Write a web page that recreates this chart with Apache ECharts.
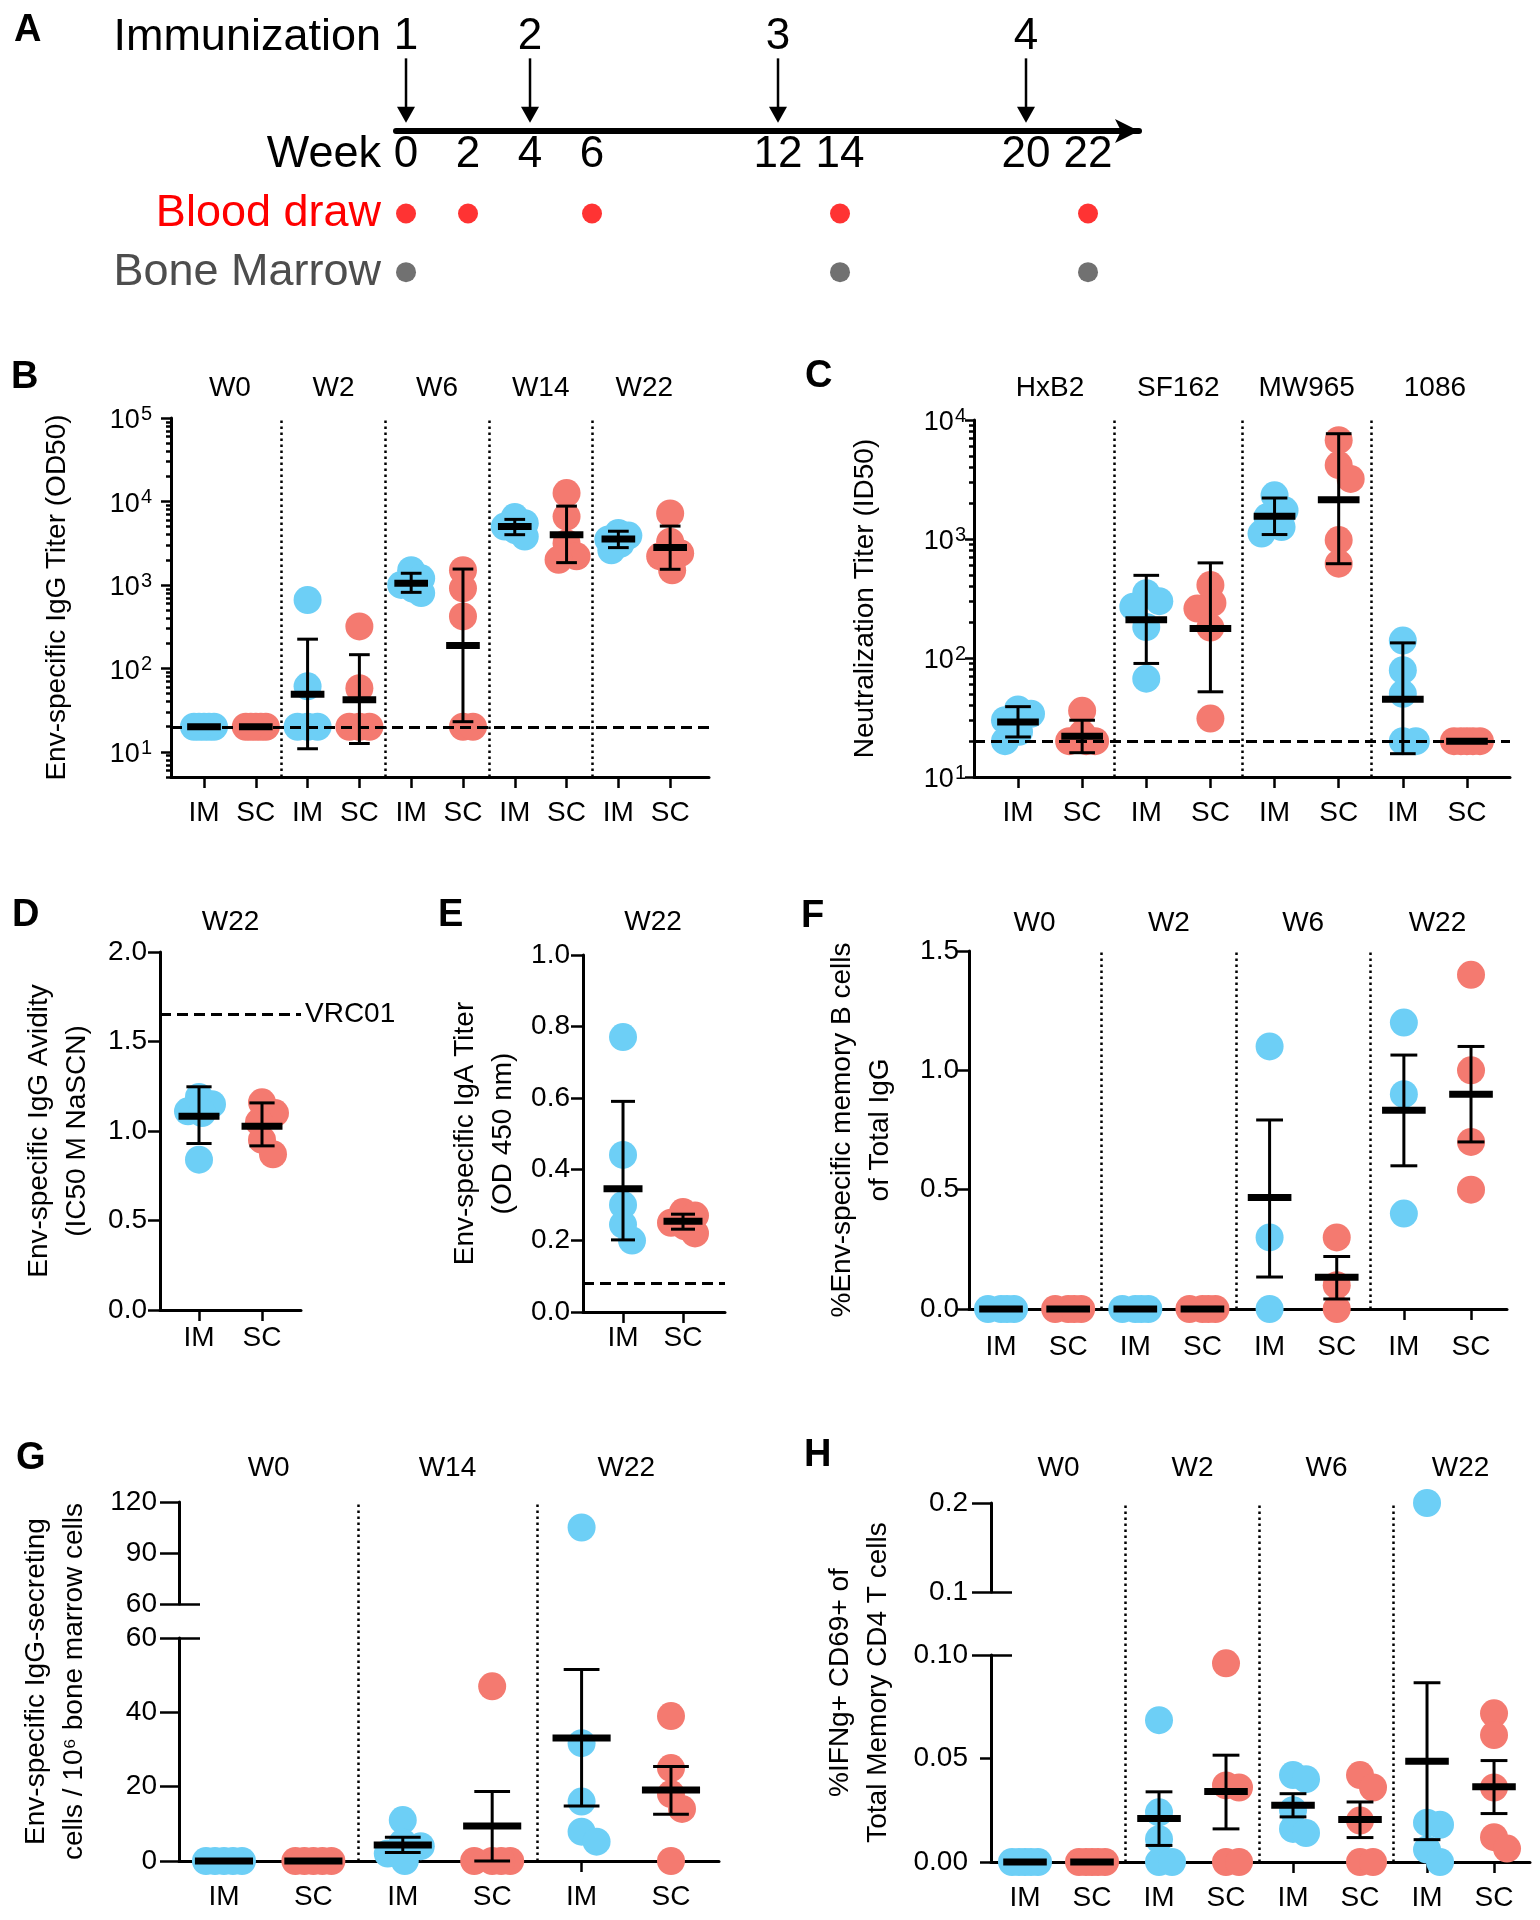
<!DOCTYPE html>
<html><head><meta charset="utf-8">
<script src="https://cdn.jsdelivr.net/npm/echarts@6/dist/echarts.min.js"></script>
<style>html,body{margin:0;padding:0;background:#fff}#c{width:1540px;height:1920px}</style>
</head><body><div id="c"></div>
<script>
// ================= DATA =================
const routes = ['IM', 'SC'];

// Panel A – timeline
const timelineRows = ['Bone Marrow', 'Blood draw', 'Week', '', 'Immunization'];
const weekTicks = [0, 2, 4, 6, 12, 14, 20, 22];
const immunWeeks = [0, 4, 12, 20];
const immunNumbers = ['1', '2', '3', '4'];
const bloodDrawWeeks = [0, 2, 6, 14, 22];
const boneMarrowWeeks = [0, 14, 22];

// Panel B – Env-specific IgG titer (OD50), log scale
const bGroups = ['W0', 'W2', 'W6', 'W14', 'W22'];
const bPoints = [
  [20, 20, 20, 20, 20], [20, 20, 20, 20, 20],
  [660, 61, 20, 20, 20], [318, 58, 20, 20, 20],
  [1500, 1200, 1000, 900, 800], [1500, 910, 420, 20, 20],
  [6500, 5500, 5000, 4500, 3800], [12600, 6600, 3160, 2200, 2000],
  [4200, 3900, 3500, 3100, 2600], [7200, 3300, 2400, 2200, 1500]
];
const bMean = [20, 20, 49, 42, 1050, 188, 5000, 3980, 3550, 2800];
const bLow = [20, 20, 10.9, 12.6, 815, 23, 4000, 1850, 2800, 1540];
const bHigh = [20, 20, 224, 146, 1380, 1550, 6100, 8800, 4400, 5070];
const bLimit = 20;
const bExponents = [1, 2, 3, 4, 5];

// Panel C – Neutralization titer (ID50), log scale
const cGroups = ['HxB2', 'SF162', 'MW965', '1086'];
const cPoints = [
  [37, 34, 30, 24, 20], [36, 23, 20, 20, 20],
  [350, 300, 270, 182, 67], [410, 290, 260, 180, 31],
  [2330, 1740, 1530, 1260, 1110], [6770, 4180, 3200, 980, 620],
  [140, 79, 50, 20, 20], [20, 20, 20, 20, 20]
];
const cMean = [29, 22, 210, 177, 1550, 2140, 45, 20];
const cLow = [21.7, 16, 90, 52, 1090, 620, 15.7, 20];
const cHigh = [39, 30, 495, 630, 2210, 7670, 134, 20];
const cLimit = 20;
const cExponents = [1, 2, 3, 4];

// Panel D – IgG avidity
const dGroups = ['W22'];
const dPoints = [[1.19, 1.15, 1.11, 1.10, 0.84], [1.16, 1.10, 1.05, 0.95, 0.87]];
const dMean = [1.083, 1.027];
const dLow = [0.93, 0.917];
const dHigh = [1.247, 1.157];
const dVRC01 = 1.647;
const dTicks = [0, 0.5, 1.0, 1.5, 2.0];

// Panel E – IgA titer
const eGroups = ['W22'];
const ePoints = [[0.77, 0.44, 0.30, 0.245, 0.20], [0.28, 0.27, 0.25, 0.24, 0.22]];
const eMean = [0.345, 0.254];
const eLow = [0.202, 0.232];
const eHigh = [0.59, 0.274];
const eLimit = 0.078;
const eTicks = [0, 0.2, 0.4, 0.6, 0.8, 1.0];

// Panel F – memory B cells
const fGroups = ['W0', 'W2', 'W6', 'W22'];
const fPoints = [
  [0, 0, 0, 0], [0, 0, 0, 0], [0, 0, 0, 0], [0, 0, 0, 0],
  [1.1, 0.3, 0], [0.3, 0.1, 0], [1.2, 0.9, 0.4], [1.4, 1.0, 0.7, 0.5]
];
const fMean = [0, 0, 0, 0, 0.467, 0.133, 0.833, 0.9];
const fLow = [0, 0, 0, 0, 0.134, 0.042, 0.6, 0.7];
const fHigh = [0, 0, 0, 0, 0.792, 0.22, 1.064, 1.1];
const fTicks = [0, 0.5, 1.0, 1.5];

// Panel G – IgG-secreting cells / 10^6 bone marrow cells (broken axis)
const gGroups = ['W0', 'W14', 'W22'];
const gPoints = [
  [0, 0, 0, 0, 0], [0, 0, 0, 0, 0],
  [11, 5, 4, 2, 0], [47, 0, 0, 0, 0],
  [105, 31.7, 16, 7.9, 5.2], [39, 25, 18, 14, 0]
];
const gMean = [0, 0, 4.3, 9.4, 33.1, 19.1];
const gLow = [0, 0, 2.3, 0, 14.8, 12.6];
const gHigh = [0, 0, 6.4, 18.7, 51.5, 25.4];
const gUpperTicks = [60, 90, 120];
const gLowerTicks = [0, 20, 40, 60];

// Panel H – IFNg+ CD69+ CD4 T cells (broken axis)
const hGroups = ['W0', 'W2', 'W6', 'W22'];
const hPoints = [
  [0, 0, 0, 0, 0], [0, 0, 0, 0, 0],
  [0.0685, 0.024, 0.011, 0, 0], [0.096, 0.037, 0.036, 0, 0],
  [0.042, 0.040, 0.025, 0.016, 0.014], [0.042, 0.036, 0.02, 0, 0],
  [0.2, 0.019, 0.018, 0.006, 0], [0.0718, 0.0613, 0.036, 0.012, 0.0065]
];
const hMean = [0, 0, 0.021, 0.034, 0.0274, 0.0205, 0.0487, 0.0363];
const hLow = [0, 0, 0.008, 0.016, 0.0218, 0.0118, 0.0108, 0.0234];
const hHigh = [0, 0, 0.0339, 0.0516, 0.033, 0.029, 0.0866, 0.049];
const hUpperTicks = [0.1, 0.2];
const hLowerTicks = [0, 0.05, 0.10];

// ================= STYLE / BUILD =================
const FONT = "'Liberation Sans', Arial, Helvetica, sans-serif";
const BLUE = '#6dcff6', RED = '#f47a70', BLACK = '#000000';
const LINE = { color: BLACK, width: 3 };
const TICK = { color: BLACK, width: 2.5 };

const option = {
  animation: false, backgroundColor: '#ffffff',
  textStyle: { fontFamily: FONT, color: BLACK },
  title: [], grid: [], xAxis: [], yAxis: [], series: []
};
function addGrid(left, top, width, height) { option.grid.push({ left, top, width, height }); return option.grid.length - 1; }
function addX(cfg) { option.xAxis.push(Object.assign({ type: 'value', splitLine: { show: false } }, cfg)); return option.xAxis.length - 1; }
function addY(cfg) { option.yAxis.push(Object.assign({ type: 'value', splitLine: { show: false } }, cfg)); return option.yAxis.length - 1; }
function letter(t, left, top) {
  option.title.push({ text: t, left, top, padding: 0, textStyle: { fontSize: 38, fontWeight: 'bold', color: BLACK, fontFamily: FONT } });
}
const log10 = v => Math.log10(v);
const expFmt = v => '{b|10}{s|' + Math.round(v) + '}';
const expRich = {
  b: { fontSize: 27, color: BLACK, fontFamily: FONT, padding: [6, 0, 0, 0] },
  s: { fontSize: 20, color: BLACK, fontFamily: FONT, verticalAlign: 'top', padding: [3, 0, 0, 1] }
};
function logMinor(lo, hi) {
  const out = [];
  for (let e = Math.floor(Math.log10(lo)); e < Math.log10(hi); e++)
    for (let k = 2; k <= 9; k++) { const v = k * Math.pow(10, e); if (v >= lo && v <= hi) out.push(Math.log10(v)); }
  return out;
}

function swarmRender(points, tf, filter) {
  return function (params, api) {
    const i = params.dataIndex;
    const x = i + 1;
    const color = i % 2 === 0 ? BLUE : RED;
    const spacing = api.size([1, 0])[0];
    const cap = Math.round(spacing * 0.2);
    const dmin = 18;
    const cx = api.coord([x, api.value(1)])[0];
    const placed = [], children = [];
    points[i].filter(filter).forEach(v => {
      const y = api.coord([x, tf(v)])[1];
      const cands = [0];
      for (let k = 1; k <= cap; k++) cands.push(k, -k);
      let best = 0, bestScore = -1;
      for (const off of cands) {
        let md = Infinity;
        for (const q of placed) md = Math.min(md, Math.hypot(off - q[0], y - q[1]));
        if (md >= dmin) { best = off; break; }
        if (md > bestScore) { bestScore = md; best = off; }
      }
      placed.push([best, y]);
      children.push({ type: 'circle', shape: { cx: cx + best, cy: y, r: 14 }, style: { fill: color } });
    });
    return { type: 'group', children };
  };
}
function meanRender(params, api) {
  const x = api.value(0);
  const m = api.coord([x, api.value(1)]);
  const lo = api.coord([x, api.value(2)]);
  const hi = api.coord([x, api.value(3)]);
  const spacing = api.size([1, 0])[0];
  const mw = spacing * 0.65, cw = spacing * 0.4;
  const st = { stroke: BLACK, lineWidth: 3 };
  const ch = [];
  if (lo[1] - hi[1] > 1) {
    ch.push({ type: 'line', shape: { x1: m[0], y1: hi[1], x2: m[0], y2: lo[1] }, style: st });
    ch.push({ type: 'line', shape: { x1: m[0] - cw / 2, y1: hi[1], x2: m[0] + cw / 2, y2: hi[1] }, style: st });
    ch.push({ type: 'line', shape: { x1: m[0] - cw / 2, y1: lo[1], x2: m[0] + cw / 2, y2: lo[1] }, style: st });
  }
  ch.push({ type: 'rect', shape: { x: m[0] - mw / 2, y: m[1] - 3.5, width: mw, height: 7 }, style: { fill: BLACK } });
  return { type: 'group', children: ch };
}

function dotPanel(P) {
  const tf = P.tf || (v => v);
  const xs = P.points.map((_, i) => i + 1);
  const divs = P.groups.slice(1).map((_, g) => 2 * g + 2.5);
  const heads = P.groups.map((_, g) => 2 * g + 1.5);
  const segs = P.segments;
  const topY = segs[0].top, last = segs[segs.length - 1], botY = last.top + last.height;
  letter(P.letter, P.letterPos[0], P.letterPos[1]);

  // background grid: axis title + group dividers
  const bg = addGrid(P.left, topY, P.width, botY - topY);
  const bgx = addX({ gridIndex: bg, min: P.xMin, max: P.xMax, show: false, position: 'bottom' });
  const bgy = addY({
    gridIndex: bg, min: 0, max: 1, position: 'left',
    axisLine: { show: false }, axisTick: { show: false }, axisLabel: { show: false },
    name: P.name, nameLocation: 'middle', nameRotate: 90, nameGap: P.nameGap,
    nameTextStyle: { fontSize: 28, lineHeight: 38, color: BLACK, fontFamily: FONT, align: 'center' }
  });
  if (divs.length) {
    option.series.push({
      type: 'line', xAxisIndex: bgx, yAxisIndex: bgy, data: [], z: 1, silent: true,
      markLine: { silent: true, symbol: ['none', 'none'], label: { show: false }, animation: false,
        lineStyle: { type: [2.5, 3.5], width: 2.5, color: BLACK }, data: divs.map(x => ({ xAxis: x })) }
    });
  }

  segs.forEach((s, k) => {
    const isTop = k === 0, isBottom = k === segs.length - 1;
    const gi = addGrid(P.left, s.top, P.width, s.height);
    const xi = addX({
      gridIndex: gi, min: P.xMin, max: P.xMax, position: 'bottom', show: isBottom,
      axisLine: { show: true, onZero: false, lineStyle: LINE },
      axisTick: { show: true, customValues: xs, length: 11, lineStyle: TICK },
      axisLabel: { customValues: xs, formatter: v => routes[(Math.round(v) - 1) % 2], fontSize: 28, color: BLACK, margin: P.xLabelMargin, fontFamily: FONT }
    });
    if (isTop) {
      addX({
        gridIndex: gi, min: P.xMin, max: P.xMax, position: 'top',
        axisLine: { show: false }, axisTick: { show: false },
        axisLabel: { customValues: heads, formatter: v => P.groups[Math.round((v - 1.5) / 2)], fontSize: 28, color: BLACK, margin: P.headerMargin, fontFamily: FONT }
      });
    }
    const yi = addY({
      gridIndex: gi, min: s.min, max: s.max, position: 'left',
      axisLine: { show: true, onZero: false, lineStyle: LINE },
      axisTick: { show: true, customValues: s.ticks, length: s.tickLen, lineStyle: TICK },
      axisLabel: { customValues: s.ticks, formatter: s.fmt, fontSize: 28, color: BLACK, margin: s.labelMargin, fontFamily: FONT, rich: expRich }
    });
    if (s.minor) addY({ gridIndex: gi, min: s.min, max: s.max, position: 'left', axisLine: { show: false }, axisLabel: { show: false },
      axisTick: { show: true, customValues: s.minor, length: s.minorLen, lineStyle: TICK } });
    if (s.longTicks) addY({ gridIndex: gi, min: s.min, max: s.max, position: 'left', axisLine: { show: false }, axisLabel: { show: false },
      axisTick: { show: true, customValues: s.longTicks, length: 19, lineStyle: TICK } });
    if (s.breakTicks) addY({ gridIndex: gi, min: s.min, max: s.max, position: 'left', axisLine: { show: false }, axisLabel: { show: false },
      axisTick: { show: true, inside: true, customValues: s.breakTicks, length: 21, lineStyle: TICK } });

    const lowerMax = segs.length > 1 ? segs[segs.length - 1].max : Infinity;
    const filter = segs.length === 1 ? (() => true) : (isBottom ? (v => tf(v) <= lowerMax) : (v => tf(v) > lowerMax));

    if (isBottom && P.limit !== undefined) {
      option.series.push({
        type: 'line', xAxisIndex: xi, yAxisIndex: yi, data: [], z: 1, silent: true,
        markLine: { silent: true, symbol: ['none', 'none'], animation: false,
          label: P.limitLabel ? { show: true, position: 'end', formatter: P.limitLabel, fontSize: 28, color: BLACK, fontFamily: FONT, distance: 4 } : { show: false },
          lineStyle: { type: [11, 6], width: 3, color: BLACK }, data: [{ yAxis: tf(P.limit) }] }
      });
    }
    option.series.push({
      type: 'custom', xAxisIndex: xi, yAxisIndex: yi, z: 2, clip: false,
      data: xs.map(x => [x, s.min]), encode: { x: 0, y: 1 },
      renderItem: swarmRender(P.points, tf, filter)
    });
    if (isBottom) {
      option.series.push({
        type: 'custom', xAxisIndex: xi, yAxisIndex: yi, z: 3, clip: false,
        data: P.mean.map((m, i) => [i + 1, tf(m), tf(P.low[i]), tf(P.high[i])]), encode: { x: 0, y: 1 },
        renderItem: meanRender
      });
    }
  });
}

// ---------- Panel A ----------
letter('A', 14, 12);
const gA = addGrid(396, 8, 743, 293.5);
const xA = addX({
  gridIndex: gA, min: -0.323, max: 23.645, position: 'bottom', offset: -170.5,
  axisLine: { show: true, onZero: false, symbol: ['none', 'arrow'], symbolSize: [18, 24], lineStyle: { color: BLACK, width: 6 } },
  axisTick: { show: false },
  axisLabel: { customValues: weekTicks, fontSize: 44, color: BLACK, margin: 2, fontFamily: FONT }
});
const yA = addY({
  gridIndex: gA, type: 'category', data: timelineRows, position: 'left',
  axisLine: { show: false }, axisTick: { show: false },
  axisLabel: { fontSize: 45, margin: 15, fontFamily: FONT, color: v => v === 'Blood draw' ? '#ff0000' : (v === 'Bone Marrow' ? '#4d4d4d' : BLACK) }
});
option.series.push({ type: 'scatter', xAxisIndex: xA, yAxisIndex: yA, symbolSize: 20, itemStyle: { color: '#ff0000' },
  data: bloodDrawWeeks.map(w => [w, 'Blood draw']) });
option.series.push({ type: 'scatter', xAxisIndex: xA, yAxisIndex: yA, symbolSize: 20, itemStyle: { color: '#4d4d4d' },
  data: boneMarrowWeeks.map(w => [w, 'Bone Marrow']) });
option.series.push({
  type: 'custom', xAxisIndex: xA, yAxisIndex: yA, clip: false,
  data: immunWeeks.map((w, i) => [w, 4, i]), encode: { x: 0, y: 1 },
  renderItem: (params, api) => {
    const w = api.value(0);
    const top = api.coord([w, 4]);
    const wk = api.coord([w, 2]);
    const x = top[0], y0 = top[1] + 21, tip = wk[1] - 32;
    return { type: 'group', children: [
      { type: 'text', style: { text: immunNumbers[params.dataIndex], x, y: top[1], align: 'center', verticalAlign: 'middle', fontSize: 44, fontFamily: FONT, fill: BLACK } },
      { type: 'line', shape: { x1: x, y1: y0, x2: x, y2: tip - 10 }, style: { stroke: BLACK, lineWidth: 2.5 } },
      { type: 'polygon', shape: { points: [[x - 9, tip - 16], [x + 9, tip - 16], [x, tip]] }, style: { fill: BLACK } }
    ] };
  }
});

// ---------- Panels B..H ----------
dotPanel({
  letter: 'B', letterPos: [11, 359], left: 171, width: 538, xMin: 0.363, xMax: 10.75,
  groups: bGroups, points: bPoints, mean: bMean, low: bLow, high: bHigh, tf: log10, limit: bLimit,
  name: 'Env-specific IgG Titer (OD50)', nameGap: 95, headerMargin: 16, xLabelMargin: 22,
  segments: [{ top: 418, height: 359, min: Math.log10(5), max: 5, ticks: bExponents, fmt: expFmt, tickLen: 10,
    minor: logMinor(5, 1e5), minorLen: 5, labelMargin: 19 }]
});
dotPanel({
  letter: 'C', letterPos: [805, 358], left: 974, width: 536, xMin: 0.314, xMax: 8.671,
  groups: cGroups, points: cPoints, mean: cMean, low: cLow, high: cHigh, tf: log10, limit: cLimit,
  name: 'Neutralization Titer (ID50)', nameGap: 90, headerMargin: 18, xLabelMargin: 22,
  segments: [{ top: 420, height: 357, min: 1, max: 4, ticks: cExponents, fmt: expFmt, tickLen: 9,
    minor: logMinor(10, 1e4), minorLen: 5, labelMargin: 8 }]
});
dotPanel({
  letter: 'D', letterPos: [12, 897], left: 160, width: 141, xMin: 0.381, xMax: 2.619,
  groups: dGroups, points: dPoints, mean: dMean, low: dLow, high: dHigh, limit: dVRC01, limitLabel: 'VRC01',
  name: 'Env-specific IgG Avidity\n(IC50 M NaSCN)', nameGap: 64, headerMargin: 16, xLabelMargin: 14,
  segments: [{ top: 952, height: 358, min: 0, max: 2, ticks: dTicks, fmt: v => v.toFixed(1), tickLen: 12, labelMargin: 13 }]
});
dotPanel({
  letter: 'E', letterPos: [438, 897], left: 583, width: 142, xMin: 0.333, xMax: 2.70,
  groups: eGroups, points: ePoints, mean: eMean, low: eLow, high: eHigh, limit: eLimit,
  name: 'Env-specific IgA Titer\n(OD 450 nm)', nameGap: 61, headerMargin: 19, xLabelMargin: 12,
  segments: [{ top: 955, height: 357, min: 0, max: 1, ticks: eTicks, fmt: v => v.toFixed(1), tickLen: 12, labelMargin: 13 }]
});
dotPanel({
  letter: 'F', letterPos: [801, 898], left: 969, width: 538, xMin: 0.523, xMax: 8.536,
  groups: fGroups, points: fPoints, mean: fMean, low: fLow, high: fHigh,
  name: '%Env-specific memory B cells\nof Total IgG', nameGap: 70, headerMargin: 14, xLabelMargin: 24,
  segments: [{ top: 951, height: 358, min: 0, max: 1.5, ticks: fTicks, fmt: v => v.toFixed(1), tickLen: 12, labelMargin: 10 }]
});
dotPanel({
  letter: 'G', letterPos: [16, 1440], left: 179, width: 540, xMin: 0.497, xMax: 6.537,
  groups: gGroups, points: gPoints, mean: gMean, low: gLow, high: gHigh,
  name: 'Env-specific IgG-secreting\ncells / 10\u2076 bone marrow cells', nameGap: 86, headerMargin: 20, xLabelMargin: 22,
  segments: [
    { top: 1502, height: 102, min: 60, max: 120, ticks: gUpperTicks, fmt: v => String(v), tickLen: 19, labelMargin: 22, breakTicks: [60] },
    { top: 1638, height: 223, min: 0, max: 60, ticks: gLowerTicks, fmt: v => String(v), tickLen: 19, labelMargin: 22, breakTicks: [60] }
  ]
});
dotPanel({
  letter: 'H', letterPos: [804, 1437], left: 991, width: 539, xMin: 0.4925, xMax: 8.537,
  groups: hGroups, points: hPoints, mean: hMean, low: hLow, high: hHigh,
  name: '%IFNg+ CD69+ of\nTotal Memory CD4 T cells', nameGap: 94, headerMargin: 21, xLabelMargin: 22,
  segments: [
    { top: 1503, height: 89, min: 0.1, max: 0.2, ticks: hUpperTicks, fmt: v => v.toFixed(1), tickLen: 19, labelMargin: 23, breakTicks: [0.1] },
    { top: 1655, height: 207, min: 0, max: 0.1, ticks: hLowerTicks, fmt: v => v.toFixed(2), tickLen: 11, longTicks: [0.1], labelMargin: 23, breakTicks: [0.1] }
  ]
});

const chart = echarts.init(document.getElementById('c'), null, { renderer: 'canvas', width: 1540, height: 1920 });
chart.setOption(option);
</script>
</body></html>
